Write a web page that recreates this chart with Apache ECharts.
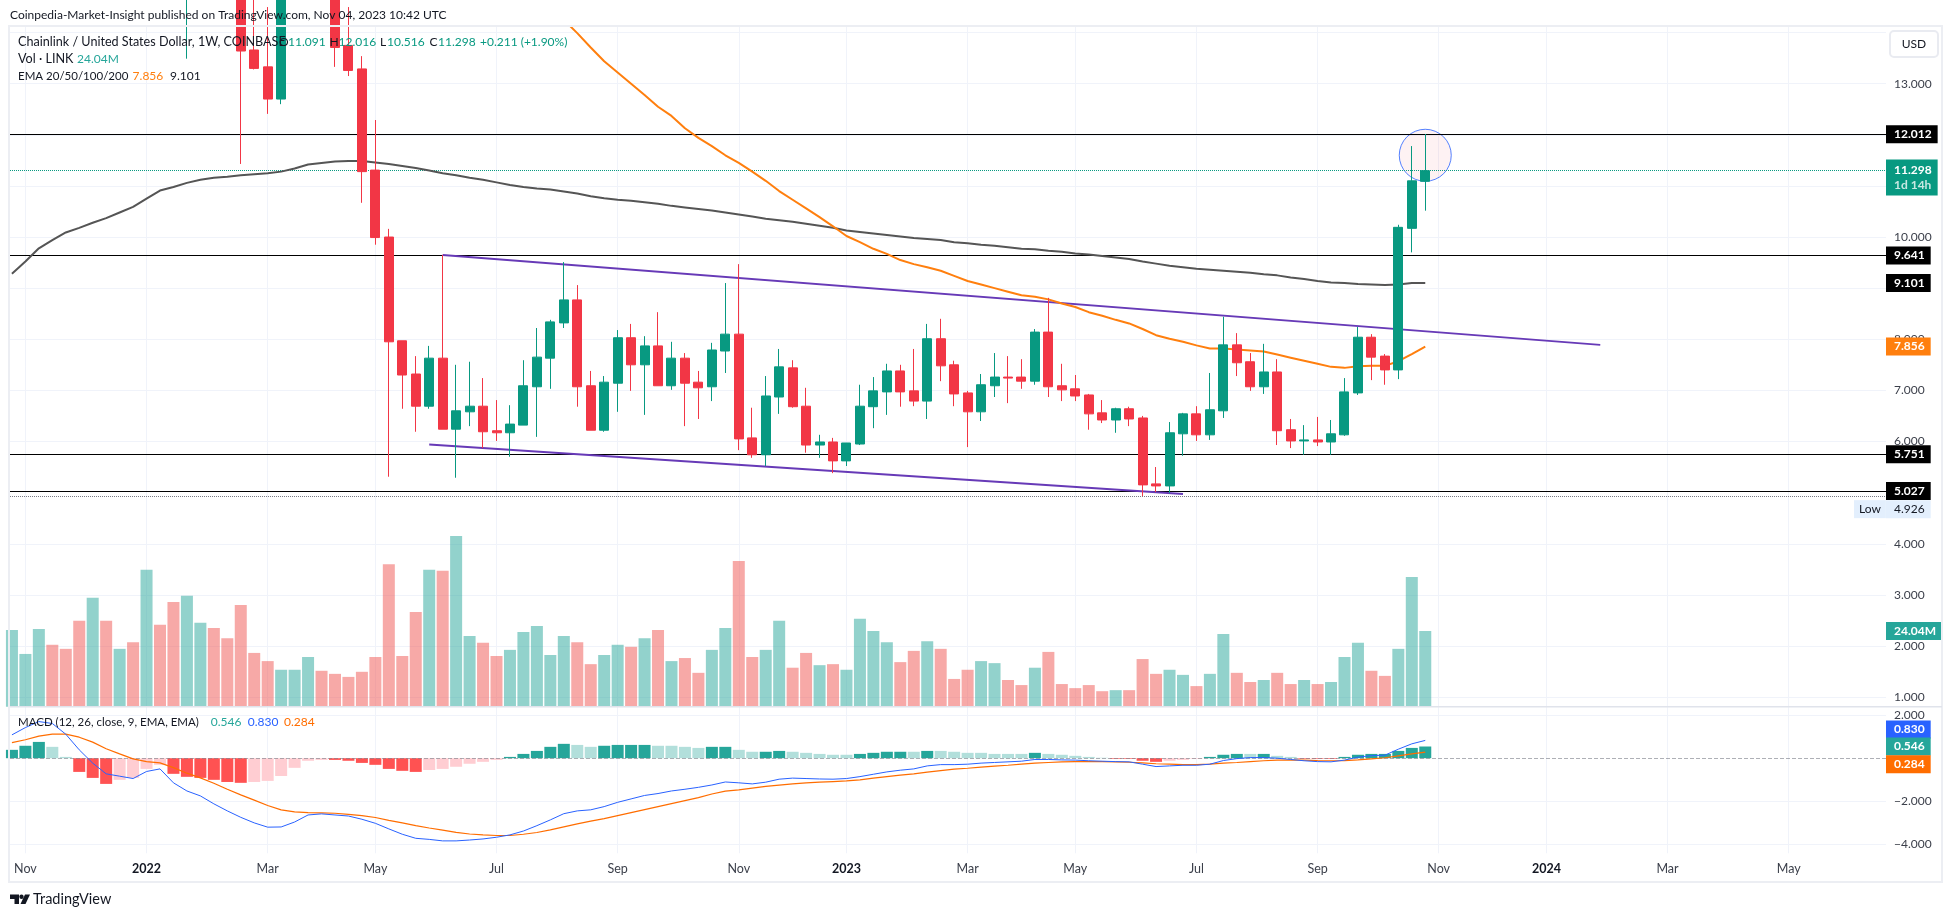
<!DOCTYPE html>
<html>
<head>
<meta charset="utf-8">
<title>LINK/USD</title>
<style>html,body{margin:0;padding:0;background:#fff}#chart{width:1952px;height:917px}</style>
<script src="https://cdn.jsdelivr.net/npm/echarts@6/dist/echarts.min.js"></script>
</head>
<body>
<div id="chart"></div>
<script>
// weeks are counted from the candle of 1 Nov 2021
var firstWeek = -1;
var opens = [24.0,26.5,30.5,35.0,29.5,25.5,22.0,23.5,19.5,21.0,
    19.5,22.0,19.0,15.5,16.5,17.5,16.0,15.2,13.66,13.33,
    12.70,15.0,16.2,17.5,15.0,13.75,13.29,11.31,10.00,7.97,
    7.32,6.69,7.63,6.24,6.58,6.69,6.21,6.17,6.32,7.07,
    7.63,8.32,8.77,7.09,6.22,7.14,8.03,7.50,7.87,7.09,
    7.63,7.16,7.07,7.77,8.10,6.07,5.74,6.87,7.44,6.69,
    5.93,5.99,5.62,5.95,6.68,6.97,7.38,6.99,6.79,8.01,
    7.50,6.95,6.58,7.09,7.26,7.26,7.18,8.14,7.09,7.03,
    6.91,6.56,6.42,6.64,6.46,5.17,5.13,6.15,6.54,6.13,
    6.60,7.89,7.56,7.07,7.36,6.23,6.01,6.03,5.99,6.13,
    6.95,8.04,7.67,7.40,10.17,11.091];
var closes = [26.5,30.5,35.0,29.5,25.5,22.0,23.5,19.5,21.0,19.5,
    22.0,19.0,15.5,16.5,17.5,16.0,15.2,13.64,13.30,12.70,
    15.0,16.2,17.5,15.0,13.71,13.26,11.28,9.99,7.95,7.30,
    6.69,7.63,6.24,6.60,6.69,6.19,6.17,6.34,7.09,7.65,
    8.34,8.77,7.07,6.22,7.16,8.03,7.50,7.87,7.09,7.63,
    7.14,7.05,7.79,8.10,6.05,5.74,6.89,7.46,6.68,5.93,
    5.99,5.62,5.97,6.69,6.99,7.38,6.97,6.79,8.01,7.48,
    6.93,6.58,7.11,7.26,7.24,7.18,8.14,7.07,7.01,6.89,
    6.54,6.42,6.64,6.44,5.15,5.13,6.17,6.54,6.13,6.62,
    7.89,7.54,7.07,7.36,6.21,6.01,6.03,5.99,6.15,6.97,
    8.04,7.65,7.40,10.19,11.10,11.298];
var lows = [23.5,25.5,29.5,28.5,24.5,20.5,20.5,17.5,18.5,17.5,
    19.0,18.0,14.5,13.49,15.0,15.0,14.8,11.43,13.28,12.41,
    12.60,14.6,15.5,14.5,13.33,13.15,10.67,9.85,5.31,6.64,
    6.19,6.64,6.24,5.29,6.30,5.87,6.01,5.70,6.32,6.09,
    7.03,8.22,6.68,6.22,6.19,6.58,6.99,6.52,7.09,7.01,
    6.30,6.44,6.79,7.34,5.83,5.68,5.52,6.54,6.66,5.78,
    5.68,5.38,5.52,5.93,6.26,6.52,6.68,6.69,6.44,7.18,
    6.69,5.89,6.40,6.87,6.75,7.03,7.11,6.87,6.79,6.79,
    6.23,6.36,6.17,6.30,4.93,5.01,4.99,5.72,6.01,6.03,
    6.46,7.28,6.99,6.93,5.93,5.87,5.74,5.91,5.74,6.11,
    6.91,7.20,7.11,7.22,9.70,10.516];
var highs = [27.5,32.0,38.0,36.0,30.5,26.0,26.0,24.0,22.5,22.0,
    25.0,23.0,19.5,17.5,19.0,18.0,17.0,16.0,15.0,14.5,
    15.5,17.0,18.5,18.0,15.5,14.5,13.54,12.29,10.16,7.97,
    7.67,7.87,9.65,7.50,7.56,7.24,6.81,6.71,7.59,8.22,
    8.38,9.51,9.06,7.38,7.28,8.18,8.30,8.06,8.53,7.95,
    7.73,7.38,7.93,9.10,9.47,6.66,7.28,7.81,7.59,7.05,
    6.13,6.07,5.97,7.11,7.26,7.52,7.50,7.81,8.30,8.40,
    7.58,6.99,7.32,7.73,7.67,7.61,8.20,8.81,7.52,7.30,
    6.93,6.81,6.66,6.68,6.50,5.50,6.38,6.56,6.69,7.34,
    8.44,8.12,7.73,7.91,7.61,6.44,6.32,6.48,6.42,7.24,
    8.24,8.10,7.71,10.24,11.78,12.016];
var volumes = [2.32,1.85,2.34,2.03,1.95,2.50,2.95,2.50,1.95,2.08,
    3.50,2.42,2.87,2.99,2.46,2.36,2.16,2.81,1.87,1.71,
    1.54,1.54,1.79,1.52,1.46,1.40,1.50,1.79,3.61,1.81,
    2.67,3.50,3.48,4.16,2.20,2.07,1.81,1.93,2.28,2.40,
    1.83,2.20,2.08,1.65,1.83,2.03,1.99,2.16,2.32,1.71,
    1.77,1.48,1.93,2.36,3.67,1.79,1.93,2.50,1.58,1.87,
    1.63,1.65,1.54,2.54,2.30,2.08,1.69,1.91,2.10,1.95,
    1.36,1.54,1.71,1.67,1.34,1.24,1.58,1.89,1.26,1.18,
    1.24,1.12,1.14,1.14,1.75,1.46,1.54,1.44,1.22,1.46,
    2.24,1.48,1.30,1.34,1.48,1.26,1.34,1.26,1.30,1.79,
    2.07,1.52,1.42,1.95,3.36,2.30];
var ema200 = [9.28,9.52,9.78,9.94,10.09,10.18,10.28,10.37,10.48,10.59,
    10.75,10.91,10.98,11.06,11.12,11.16,11.18,11.21,11.23,11.25,
    11.28,11.34,11.42,11.45,11.48,11.49,11.49,11.46,11.43,11.39,
    11.35,11.30,11.25,11.21,11.16,11.12,11.07,11.02,10.98,10.95,
    10.93,10.89,10.85,10.80,10.76,10.73,10.71,10.68,10.65,10.61,
    10.58,10.55,10.52,10.48,10.44,10.40,10.36,10.33,10.30,10.26,
    10.22,10.18,10.13,10.10,10.07,10.04,10.01,9.98,9.96,9.94,
    9.90,9.88,9.85,9.83,9.80,9.77,9.76,9.73,9.71,9.68,
    9.66,9.63,9.60,9.57,9.52,9.48,9.44,9.41,9.38,9.36,
    9.34,9.32,9.30,9.27,9.25,9.21,9.18,9.14,9.11,9.10,
    9.08,9.07,9.06,9.07,9.10,9.101];
// the 50 week line only comes into view at week 40
var ema50First = 40;
var ema50 = [14.25,13.99,13.71,13.44,13.22,13.00,12.78,12.55,12.37,12.13,
    11.94,11.78,11.60,11.45,11.28,11.10,10.90,10.73,10.56,10.39,
    10.21,10.02,9.90,9.77,9.67,9.55,9.47,9.41,9.34,9.24,
    9.14,9.07,9.00,8.93,8.86,8.83,8.78,8.70,8.63,8.53,
    8.46,8.38,8.31,8.20,8.08,8.01,7.95,7.88,7.82,7.82,
    7.80,7.78,7.76,7.70,7.64,7.58,7.52,7.46,7.44,7.47,
    7.48,7.48,7.57,7.71,7.856];
var macdHist = [.39,.58,.76,.53,.06,-.64,-.92,-1.20,-1.01,-.92,
    -.50,-.31,-.73,-.87,-.92,-1.01,-1.11,-1.15,-1.11,-1.06,
    -.83,-.45,-.12,-.08,-.08,-.12,-.22,-.31,-.50,-.59,
    -.64,-.55,-.50,-.40,-.26,-.17,-.08,.06,.20,.34,
    .53,.67,.62,.53,.58,.62,.62,.62,.58,.58,
    .53,.48,.53,.53,.39,.30,.30,.34,.30,.25,
    .20,.16,.16,.20,.25,.30,.30,.30,.34,.34,
    .30,.25,.25,.20,.20,.20,.25,.20,.16,.11,
    .06,.02,-.03,-.03,-.12,-.17,-.12,-.08,-.03,.06,
    .16,.20,.20,.20,.11,.06,-.03,-.03,-.03,.06,
    .16,.20,.20,.34,.48,.546];
// d = darker shade of the bar, l = lighter shade
var macdShade = ('dddlldddll' + 'llddddddll' + 'lllldddddd' + 'dllllllddd' + 'ddllddddll' +
    'llddllddll' + 'lllddddldl' + 'lllllldlll' + 'llddddllld' + 'ddldlldddd' + 'dddddd').split('');
var macdLine = [1.09,1.43,1.71,1.62,1.12,.39,-.23,-.73,-.84,-.95,
    -.62,-.50,-1.15,-1.53,-1.76,-2.13,-2.46,-2.76,-3.02,-3.22,
    -3.21,-2.98,-2.65,-2.60,-2.65,-2.70,-2.85,-3.04,-3.30,-3.55,
    -3.74,-3.79,-3.86,-3.86,-3.82,-3.77,-3.69,-3.58,-3.40,-3.15,
    -2.88,-2.59,-2.46,-2.41,-2.26,-2.06,-1.90,-1.74,-1.65,-1.53,
    -1.45,-1.36,-1.25,-1.11,-1.15,-1.20,-1.12,-.98,-.93,-.95,
    -.97,-.98,-.95,-.86,-.75,-.64,-.56,-.50,-.36,-.30,
    -.30,-.28,-.23,-.20,-.17,-.14,-.06,-.06,-.08,-.09,
    -.12,-.14,-.16,-.17,-.28,-.39,-.36,-.33,-.33,-.28,
    -.11,-.02,.03,.03,0,-.06,-.12,-.16,-.17,-.09,
    .05,.12,.14,.42,.67,.83];
var signalLine = [.73,.86,1.03,1.12,1.12,.98,.75,.44,.20,-.03,
    -.16,-.22,-.44,-.70,-.92,-1.17,-1.45,-1.71,-1.96,-2.21,
    -2.41,-2.51,-2.54,-2.55,-2.57,-2.62,-2.68,-2.77,-2.90,-3.02,
    -3.15,-3.26,-3.36,-3.46,-3.54,-3.58,-3.61,-3.61,-3.55,-3.47,
    -3.35,-3.21,-3.07,-2.94,-2.82,-2.68,-2.54,-2.40,-2.26,-2.12,
    -1.98,-1.84,-1.67,-1.54,-1.48,-1.40,-1.32,-1.26,-1.20,-1.15,
    -1.12,-1.09,-1.06,-1.01,-.93,-.86,-.79,-.73,-.65,-.58,
    -.51,-.47,-.42,-.37,-.33,-.28,-.23,-.20,-.17,-.16,
    -.16,-.16,-.17,-.19,-.22,-.26,-.28,-.30,-.30,-.28,
    -.23,-.20,-.16,-.12,-.09,-.09,-.09,-.11,-.12,-.11,
    -.08,-.03,.02,.11,.20,.284];
var levels = [12.012, 9.641, 5.751, 5.027];
var lastPrice = 11.298;
var lowPrice = 4.926;
var upperTrend = [[31, 9.65], [117, 7.89]];
var lowerTrend = [[30, 5.94], [86, 4.97]];
var highlight = [[104, 11.60]];
var timeTicks = [0, 9, 18, 26, 35, 44, 53, 61, 70, 78, 87, 96, 105, 113, 122, 131];
var timeLabels = ['Nov', '2022', 'Mar', 'May', 'Jul', 'Sep', 'Nov', '2023', 'Mar', 'May', 'Jul', 'Sep', 'Nov', '2024', 'Mar', 'May'];
var priceGrid = [14, 13, 12, 11, 10, 9, 8, 7, 6];
var priceTicks = [13, 10, 9, 8, 7, 6];
var volumeTicks = [4, 3, 2, 1];
var macdTicks = [2, -2, -4];

var UP = '#089981', DOWN = '#f23645', GRID = '#f0f3fa', TEXT = '#131722', AXIS_TEXT = '#3b3f4a';
var FONT = 'Lato';
var myChart = echarts.init(document.getElementById('chart'));

function tag(value, text, bg, extra) {
    var label = {
        show: true, position: 'end', distance: 0, formatter: text, color: '#fff',
        backgroundColor: bg, padding: [3, 6, 3, 8], fontFamily: FONT, fontSize: 12, fontWeight: 'bold'
    };
    for (var k in extra) label[k] = extra[k];
    return { yAxis: value, lineStyle: { color: 'transparent', width: 0 }, label: label };
}
function withWeeks(values, first) {
    return values.map(function (v, i) { return [i + first, v]; });
}
function xAxisFor(gridIndex, labelled) {
    return {
        type: 'value', gridIndex: gridIndex, min: -1.144, max: 138.23,
        axisLine: { show: false },
        axisTick: { show: false, customValues: timeTicks },
        splitLine: { show: true, lineStyle: { color: GRID, width: 1 } },
        axisLabel: {
            show: labelled, customValues: timeTicks, margin: 9, fontFamily: FONT, fontSize: 12.5, color: AXIS_TEXT,
            formatter: function (v) {
                var s = timeLabels[timeTicks.indexOf(v)];
                return /^\d/.test(s) ? '{y|' + s + '}' : s;
            },
            rich: { y: { fontFamily: FONT, fontSize: 12.5, fontWeight: 'bold', color: TEXT } }
        }
    };
}
function yAxisFor(gridIndex, min, max, gridValues, labelValues, fmt) {
    return {
        type: 'value', gridIndex: gridIndex, position: 'right', min: min, max: max,
        axisLine: { show: false },
        axisTick: { show: false, customValues: gridValues },
        splitLine: { show: true, lineStyle: { color: GRID, width: 1 } },
        axisLabel: { customValues: labelValues, margin: 8, align: 'left', fontFamily: FONT, fontSize: 12, color: AXIS_TEXT, formatter: fmt }
    };
}
function fmt3(v) { return v.toFixed(3).replace('-', '\u2212'); }
function legendText(x, y, text, color, size) {
    return { type: 'text', x: x, y: y, z: 50, style: { text: text, fill: color, font: (size || 12) + 'px ' + FONT, textVerticalAlign: 'middle' } };
}

var candleData = opens.map(function (o, i) { return [i + firstWeek, o, closes[i], lows[i], highs[i]]; });
var volumeData = volumes.map(function (v, i) {
    return { value: [i + firstWeek, v], itemStyle: { color: closes[i] >= opens[i] ? 'rgba(38,166,154,.5)' : 'rgba(239,83,80,.5)' } };
});
var histData = macdHist.map(function (v, i) {
    var dark = macdShade[i] === 'd';
    var color = v >= 0 ? (dark ? '#26a69a' : '#b2dfdb') : (dark ? '#ff5252' : '#ffcdd2');
    return { value: [i + firstWeek, v], itemStyle: { color: color } };
});

var option = {
    animation: false,
    backgroundColor: '#fff',
    grid: [
        { left: 10, top: 27, width: 1876, height: 679.7 },
        { left: 10, top: 707, width: 1876, height: 146.3 }
    ],
    xAxis: [xAxisFor(0, false), xAxisFor(1, true)],
    yAxis: [
        yAxisFor(0, 0.81, 14.11, priceGrid, priceTicks, fmt3),
        yAxisFor(0, 0.816, 14.14, volumeTicks, volumeTicks, fmt3),
        yAxisFor(1, -4.44, 2.39, macdTicks, macdTicks, fmt3)
    ],
    series: [
        { name: 'Vol', type: 'bar', xAxisIndex: 0, yAxisIndex: 1, barWidth: 12, z: 1, data: volumeData },
        {
            name: 'Levels', type: 'line', xAxisIndex: 0, yAxisIndex: 0, data: [], z: 3,
            markLine: {
                silent: true, symbol: 'none', animation: false, label: { show: false },
                data: levels.map(function (v) {
                    return { yAxis: v, lineStyle: { color: '#000', width: 1.2, type: 'solid' } };
                }).concat([
                    { yAxis: lastPrice, lineStyle: { color: UP, width: 1, type: 'dotted' } },
                    { yAxis: lowPrice, lineStyle: { color: '#787b86', width: 1, type: 'dotted' } }
                ])
            }
        },
        {
            name: 'Highlight', type: 'scatter', xAxisIndex: 0, yAxisIndex: 0, symbol: 'circle', symbolSize: 52, z: 4,
            itemStyle: { color: 'rgba(242,54,69,.08)', borderColor: '#2962ff', borderWidth: 1 },
            data: highlight
        },
        { name: 'Upper channel', type: 'line', xAxisIndex: 0, yAxisIndex: 0, showSymbol: false, z: 5, lineStyle: { color: '#673ab7', width: 2 }, data: upperTrend },
        { name: 'Lower channel', type: 'line', xAxisIndex: 0, yAxisIndex: 0, showSymbol: false, z: 5, lineStyle: { color: '#673ab7', width: 2 }, data: lowerTrend },
        { name: 'EMA 200', type: 'line', xAxisIndex: 0, yAxisIndex: 0, showSymbol: false, z: 6, lineStyle: { color: '#555', width: 2 }, data: withWeeks(ema200, firstWeek) },
        { name: 'EMA 50', type: 'line', xAxisIndex: 0, yAxisIndex: 0, showSymbol: false, z: 6, lineStyle: { color: '#ff7f0e', width: 2 }, data: withWeeks(ema50, ema50First) },
        {
            name: 'LINK', type: 'candlestick', xAxisIndex: 0, yAxisIndex: 0, barWidth: 9.5, z: 8,
            encode: { x: 0, y: [1, 2, 3, 4] },
            itemStyle: { color: UP, color0: DOWN, borderColor: UP, borderColor0: DOWN, borderWidth: 1 },
            data: candleData
        },
        {
            name: 'Price tags', type: 'line', xAxisIndex: 0, yAxisIndex: 0, data: [], z: 20,
            markLine: {
                silent: true, symbol: 'none', animation: false,
                data: [
                    tag(12.012, '12.012', '#000'),
                    tag(9.641, '9.641', '#000'),
                    tag(9.101, '9.101', '#000'),
                    tag(5.751, '5.751', '#000'),
                    tag(5.027, '5.027', '#000'),
                    tag(7.856, '7.856', '#ff7f0e'),
                    tag(lastPrice, '{a|11.298}\n{b|1d 14h}', UP, {
                        offset: [0, 7], rich: { a: { color: '#fff', fontFamily: FONT, fontSize: 12, fontWeight: 'bold', lineHeight: 15 }, b: { color: '#c8e8e2', fontFamily: FONT, fontSize: 12, lineHeight: 15 } }
                    }),
                    tag(lowPrice, '4.926', '#e3effd', { color: TEXT, fontWeight: 'normal', offset: [0, 13] }),
                    tag(lowPrice, 'Low', '#e3effd', { color: TEXT, fontWeight: 'normal', offset: [-32, 13], padding: [3, 5, 3, 5] })
                ]
            }
        },
        {
            name: 'Volume tag', type: 'line', xAxisIndex: 0, yAxisIndex: 1, data: [], z: 20,
            markLine: { silent: true, symbol: 'none', animation: false, data: [tag(volumes[volumes.length - 1], '24.04M', '#26a69a')] }
        },
        { name: 'Histogram', type: 'bar', xAxisIndex: 1, yAxisIndex: 2, barWidth: 12, z: 2, data: histData },
        { name: 'Signal', type: 'line', xAxisIndex: 1, yAxisIndex: 2, showSymbol: false, z: 5, lineStyle: { color: '#ff6d00', width: 1.2 }, data: withWeeks(signalLine, firstWeek) },
        { name: 'MACD', type: 'line', xAxisIndex: 1, yAxisIndex: 2, showSymbol: false, z: 5, lineStyle: { color: '#2962ff', width: 1 }, data: withWeeks(macdLine, firstWeek) },
        {
            name: 'MACD tags', type: 'line', xAxisIndex: 1, yAxisIndex: 2, data: [], z: 20,
            markLine: {
                silent: true, symbol: 'none', animation: false,
                data: [
                    { yAxis: 0, label: { show: false }, lineStyle: { color: 'rgba(120,123,134,.6)', width: 1, type: 'dashed' } },
                    tag(0.83, '0.830', '#2962ff', { offset: [0, -11] }),
                    tag(0.546, '0.546', '#26a69a'),
                    tag(0.284, '0.284', '#ff6d00', { offset: [0, 12] })
                ]
            }
        }
    ],
    graphic: [
        { type: 'rect', z: 40, shape: { x: 9, y: 26, width: 1933, height: 856 }, style: { fill: 'none', stroke: '#eceef3', lineWidth: 2 } },
        { type: 'line', z: 40, shape: { x1: 10, y1: 706.7, x2: 1942, y2: 706.7 }, style: { stroke: '#e0e3eb', lineWidth: 1.5 } },
        { type: 'rect', z: 45, shape: { x: 1890, y: 31, width: 48, height: 26, r: 4 }, style: { fill: '#fff', stroke: '#e9ebf1', lineWidth: 2 } },
        { type: 'text', z: 46, x: 1914, y: 44, style: { text: 'USD', fill: TEXT, font: '12px ' + FONT, textAlign: 'center', textVerticalAlign: 'middle' } },
        legendText(10, 15, 'Coinpedia-Market-Insight published on TradingView.com, Nov 04, 2023 10:42 UTC', TEXT, 12),
        legendText(18, 42, 'Chainlink / United States Dollar, 1W, COINBASE', TEXT, 12.6),
        legendText(279, 42, 'O', TEXT), legendText(288, 42, '11.091', UP),
        legendText(329.5, 42, 'H', TEXT), legendText(338.5, 42, '12.016', UP),
        legendText(380, 42, 'L', TEXT), legendText(387, 42, '10.516', UP),
        legendText(429.5, 42, 'C', TEXT), legendText(438, 42, '11.298', UP),
        legendText(480, 42, '+0.211 (+1.90%)', UP),
        legendText(18, 59, 'Vol \u00b7 LINK', TEXT, 12.6), legendText(77, 59, '24.04M', '#26a69a'),
        legendText(18, 76, 'EMA 20/50/100/200', TEXT, 11.5), legendText(132.6, 76, '7.856', '#ff7f0e'), legendText(170, 76, '9.101', TEXT),
        legendText(18, 722, 'MACD (12, 26, close, 9, EMA, EMA)', TEXT, 11.5),
        legendText(210.7, 722, '0.546', '#26a69a'), legendText(247.8, 722, '0.830', '#2962ff'), legendText(284, 722, '0.284', '#ff6d00'),
        // TradingView mark
        { type: 'polygon', z: 50, shape: { points: [[10, 894.5], [19, 894.5], [19, 904], [14.5, 904], [14.5, 899], [10, 899]] }, style: { fill: TEXT } },
        { type: 'circle', z: 50, shape: { cx: 21.5, cy: 896.7, r: 2.2 }, style: { fill: TEXT } },
        { type: 'polygon', z: 50, shape: { points: [[25, 894.5], [30, 894.5], [25.5, 904], [20.5, 904]] }, style: { fill: TEXT } },
        { type: 'text', z: 50, x: 33, y: 899.5, style: { text: 'TradingView', fill: TEXT, font: '14.5px ' + FONT, textVerticalAlign: 'middle' } }
    ]
};
myChart.setOption(option);
</script>
</body>
</html>
